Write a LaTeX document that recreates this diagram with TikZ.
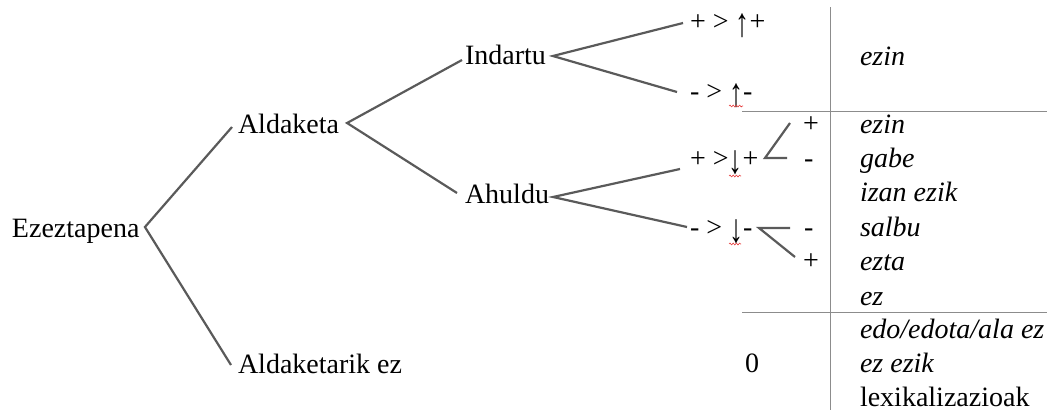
\documentclass[tikz,border=0pt]{standalone}
\usepackage{fontspec}
\setmainfont{LiberationSerif}[Extension=.ttf,UprightFont=*-Regular,ItalicFont=*-Italic,BoldFont=*-Bold]
\usetikzlibrary{decorations.pathmorphing}
\definecolor{branch}{RGB}{90,90,90}
\definecolor{rule}{RGB}{140,140,140}
\definecolor{squig}{RGB}{230,60,60}
\newcommand{\uparr}{\raisebox{-6pt}{\scalebox{1}[1.45]{↑}}}
\newcommand{\dnarr}{\raisebox{-6pt}{\scalebox{1}[1.45]{↓}}}
\begin{document}
\begin{tikzpicture}[x=1pt,y=-1pt,
  lbl/.style={inner sep=0pt,outer sep=0pt,anchor=base west,font=\fontsize{28}{34}\selectfont},
  itl/.style={lbl,font=\fontsize{28}{34}\selectfont\itshape},
  conn/.style={draw=branch,line width=2.2pt},
  tabrule/.style={draw=rule,line width=1.4pt},
  wavy/.style={draw=squig,line width=0.6pt,decorate,decoration={snake,amplitude=0.9pt,segment length=3.2pt}}]
\useasboundingbox (0,0) rectangle (1054,410);

% tree labels
\node[lbl] (ez)    at (12,237)  {Ezeztapena};
\node[lbl] (ald)   at (238,133) {Aldaketa};
\node[lbl] (aldez) at (238,373) {Aldaketarik ez};
\node[lbl] (ind)   at (465,64)  {Indartu};
\node[lbl] (ahu)   at (465,203) {Ahuldu};
\node[lbl] (pp)    at (690,30)  {+ > \uparr+};
\node[lbl] (mm)    at (690,100) {- > \uparr-};
\node[lbl] (wp)    at (690,167) {+ >\dnarr+};
\node[lbl] (wm)    at (690,236) {- > \dnarr-};
\node[lbl] (zero)  at (745,372) {0};

% signs next to the table
\node[lbl] (s1) at (803,132) {+};
\node[lbl] (s2) at (804,167) {-};
\node[lbl] (s3) at (804,236) {-};
\node[lbl] (s4) at (803,269) {+};

% right column
\node[itl] (r0) at (860,65)  {ezin};
\node[itl] (r1) at (860,133) {ezin};
\node[itl] (r2) at (860,167) {gabe};
\node[itl] (r3) at (860,201) {izan ezik};
\node[itl] (r4) at (860,236) {salbu};
\node[itl] (r5) at (860,270) {ezta};
\node[itl] (r6) at (860,305) {ez};
\node[itl] (r7) at (860,338) {edo/edota/ala ez};
\node[itl] (r8) at (860,372) {ez ezik};
\node[lbl] (r9) at (860,406) {lexikalizazioak};

% table rules
\draw[tabrule] (830.7,7) -- (830.7,410);
\draw[tabrule] (742,111.7) -- (1047,111.7);
\draw[tabrule] (742,312.7) -- (1047,312.7);

% branches
\draw[conn] ([shift={(-6,-6)}]ald.base west) -- ([shift={(5.5,-10)}]ez.base east) -- ([shift={(-7,-8)}]aldez.base west);
\draw[conn] ([shift={(-3,-4)}]ind.base west) -- ([shift={(8,-10)}]ald.base east) -- ([shift={(-8,-10)}]ahu.base west);
\draw[conn] ([shift={(-7,-7)}]pp.base west) -- ([shift={(7,-8)}]ind.base east) -- ([shift={(-13,-8)}]mm.base west);
\draw[conn] ([shift={(-10,2)}]wp.base west) -- ([shift={(4,-6)}]ahu.base east) -- ([shift={(-3,-9)}]wm.base west);
\draw[conn] ([shift={(-13,-9)}]s1.base west) -- ([shift={(-39,-9)}]s2.base west) -- ([shift={(-17,-9)}]s2.base west);
\draw[conn] ([shift={(-14,-8)}]s3.base west) -- ([shift={(-45,-8)}]s3.base west) -- ([shift={(-8,-12)}]s4.base west);

% spelling marks under the arrows
\draw[wavy] (729,106) -- (743,106);
\draw[wavy] (729,176) -- (741,176);
\draw[wavy] (729,244) -- (741,244);
\end{tikzpicture}
\end{document}
